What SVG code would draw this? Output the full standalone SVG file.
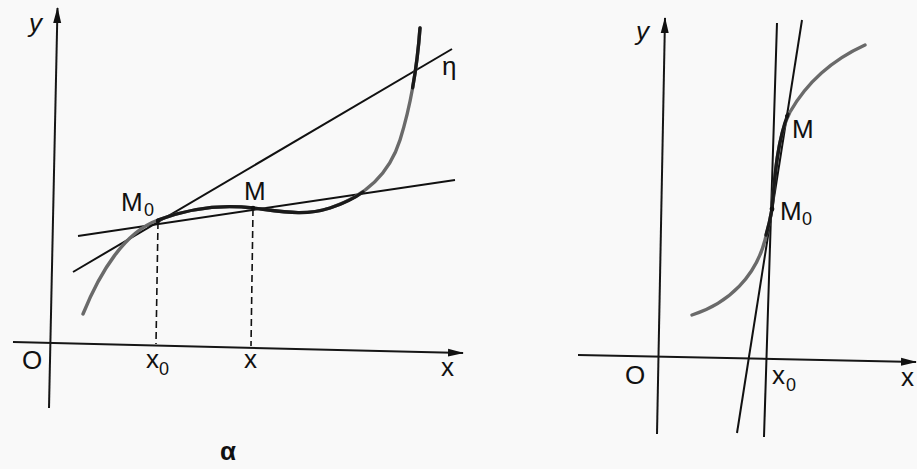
<svg xmlns="http://www.w3.org/2000/svg" width="917" height="469" viewBox="0 0 917 469">
<defs>
<marker id="arr" viewBox="0 0 16 10" refX="15" refY="5" markerWidth="16" markerHeight="10" markerUnits="userSpaceOnUse" orient="auto">
<path d="M0,1 L16,5 L0,9 Z" fill="#111"/>
</marker>
<style>
.ax{stroke:#161616;stroke-width:2;fill:none}
.ln{stroke:#111;stroke-width:2;fill:none}
.cv{stroke:#6a6a6a;stroke-width:3.4;fill:none;stroke-linecap:round}
.cvd{stroke:#1a1a1a;stroke-width:3.4;fill:none;stroke-linecap:round}
.ds{stroke:#111;stroke-width:1.6;fill:none;stroke-dasharray:7,4}
.t{font-family:"Liberation Sans","DejaVu Sans",sans-serif;fill:#111;font-size:26px}
.s{font-size:18px}
.i{font-style:italic}
</style>
</defs>
<rect width="917" height="469" fill="#f9f9f9"/>

<g id="plot-a">
  <g id="axes-a">
    <line class="ax" x1="49" y1="408" x2="57.5" y2="8" marker-end="url(#arr)"/>
    <line class="ax" x1="13" y1="342" x2="463" y2="353" marker-end="url(#arr)"/>
  </g>
  <g id="lines-a">
    <line class="ln" x1="78" y1="236" x2="455" y2="180"/>
    <line class="ln" x1="73" y1="272" x2="452" y2="49"/>
    <line class="ds" x1="158" y1="222" x2="156" y2="344"/>
    <line class="ds" x1="253" y1="209" x2="251" y2="346"/>
  </g>
  <g id="curve-a">
    <path class="cv" d="M83,314 C100,272 125,232 158,220 C190,208 220,204 253,208 C285,212 305,216 330,208 C360,198 388,178 400,140 C410,108 417,70 420,28"/>
    <path class="cvd" d="M158,220 C190,208 220,204 253,208 C285,212 305,216 330,208 C345,203 355,198 363,192"/>
    <path class="cvd" d="M412.6,87.75 C416,69 418.5,49 420,28"/>
    <circle cx="158" cy="221" r="2.2" fill="#111"/>
    <circle cx="253" cy="208" r="2.2" fill="#111"/>
  </g>
  <g id="labels-a">
    <text class="t i" x="29" y="32">y</text>
    <text class="t" x="22" y="369">O</text>
    <text class="t" x="146" y="368">x</text><text class="t s" x="159" y="375">0</text>
    <text class="t" x="244" y="368">x</text>
    <text class="t" x="441" y="376">x</text>
    <text class="t" x="121" y="211">M</text><text class="t s" x="144" y="216">0</text>
    <text class="t" x="244" y="200">M</text>
    <text class="t" x="442" y="75">η</text>
    <text class="t" x="220" y="460" style="font-weight:bold">α</text>
  </g>
</g>

<g id="plot-b">
  <g id="axes-b">
    <line class="ax" x1="657" y1="434" x2="665" y2="18" marker-end="url(#arr)"/>
    <line class="ax" x1="578" y1="355" x2="916" y2="362" marker-end="url(#arr)"/>
  </g>
  <g id="lines-b">
    <line class="ln" x1="777" y1="23" x2="764" y2="437"/>
    <line class="ln" x1="802" y1="20" x2="737" y2="433"/>
  </g>
  <g id="curve-b">
    <path class="cv" d="M692,315 C730,303 756,275 765,240 C769,225 771,215 772,209 C775,172 778,135 790,112 C806,84 832,60 865,45"/>
    <path class="cvd" d="M766,235 C769,225 771,215 772,209 C775,172 778,140 788,114"/>
    <circle cx="772" cy="209" r="2.4" fill="#111"/>
    <circle cx="787" cy="116" r="2" fill="#111"/>
  </g>
  <g id="labels-b">
    <text class="t i" x="636" y="40">y</text>
    <text class="t" x="625" y="384">O</text>
    <text class="t" x="772" y="384">x</text><text class="t s" x="786" y="391">0</text>
    <text class="t" x="901" y="386">x</text>
    <text class="t" x="792" y="138">M</text>
    <text class="t" x="780" y="220">M</text><text class="t s" x="802" y="225">0</text>
  </g>
</g>
</svg>
